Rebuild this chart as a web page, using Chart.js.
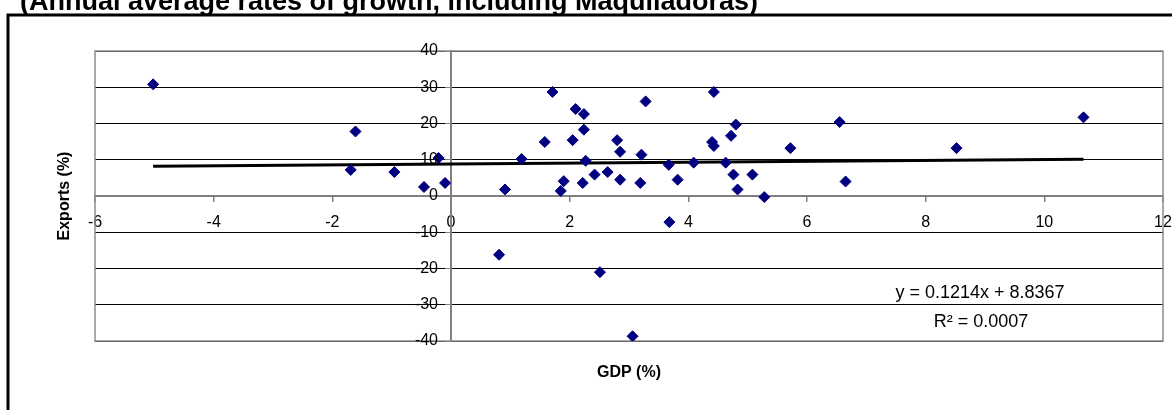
<!DOCTYPE html>
<html>
<head>
<meta charset="utf-8">
<script src="https://cdn.jsdelivr.net/npm/chart.js@4.4.1/dist/chart.umd.min.js"></script>
<style>
  html, body { margin: 0; padding: 0; background: #fff; }
  canvas { display: block; }
</style>
</head>
<body>
<canvas id="gdpChart" width="1172" height="410"></canvas>
<script>
/* ===== DATA ===== */
const chartTitle = "(Annual average rates of growth, including Maquiladoras)";

// GDP growth (%) and exports growth (%), one pair per point
const gdp = [
  -5.02, -1.69, -1.61, -0.955, -0.455, -0.21, -0.10, 0.81, 0.91, 1.19,
  1.58, 1.71, 1.85, 1.90, 2.05, 2.10, 2.22, 2.24, 2.24, 2.27,
  2.42, 2.51, 2.64, 2.80, 2.85, 2.85, 3.06, 3.19, 3.21, 3.28,
  3.67, 3.68, 3.82, 4.09, 4.40, 4.43, 4.43, 4.63, 4.72, 4.76,
  4.80, 4.83, 5.08, 5.28, 5.72, 6.55, 6.65, 8.52, 10.66
];
const exportsGrowth = [
  30.8, 7.2, 17.8, 6.6, 2.5, 10.5, 3.6, -16.2, 1.8, 10.2,
  14.9, 28.7, 1.4, 4.1, 15.4, 24.0, 3.6, 22.6, 18.3, 9.7,
  5.9, -21.0, 6.6, 15.4, 12.2, 4.5, -38.7, 3.6, 11.4, 26.1,
  8.6, -7.2, 4.5, 9.2, 14.9, 13.8, 28.7, 9.2, 16.6, 5.9,
  19.7, 1.8, 5.9, -0.3, 13.2, 20.4, 4.0, 13.2, 21.7
];

const xTickValues = [-6, -4, -2, 0, 2, 4, 6, 8, 10, 12];
const yTickValues = [-40, -30, -20, -10, 0, 10, 20, 30, 40];

// linear trend as printed on the chart
const trendSlope = 0.1214;
const trendIntercept = 8.8367;
const trendLabels = ["y = 0.1214x + 8.8367", "R\u00B2 = 0.0007"];

const xTitle = "GDP (%)";
const yTitle = "Exports (%)";

/* ===== BUILD ===== */
const FONT = "'Liberation Sans', Arial, Helvetica, sans-serif";
Chart.defaults.font.family = FONT;
Chart.defaults.color = "#000";

const points = gdp.map((x, i) => ({ x: x, y: exportsGrowth[i] }));
const xMin = Math.min(...gdp);
const xMax = Math.max(...gdp);
const trendPoints = [
  { x: xMin, y: trendSlope * xMin + trendIntercept },
  { x: xMax, y: trendSlope * xMax + trendIntercept }
];

// keep the edge tick labels from shrinking the plot area
function noScalePadding(s) {
  s.paddingLeft = 0;
  s.paddingRight = 0;
  s.paddingTop = 0;
  s.paddingBottom = 0;
}

const decorPlugin = {
  id: "decor",
  beforeDraw(chart) {
    const c = chart.ctx;
    c.save();
    c.fillStyle = "#fff";
    c.fillRect(0, 0, chart.width, chart.height);
    // outer frame of the pasted chart
    c.strokeStyle = "#000";
    c.lineWidth = 3;
    c.strokeRect(8, 15, chart.width + 20, chart.height + 20);
    // title, cut off at the top of the picture
    c.fillStyle = "#000";
    c.font = "bold 27px " + FONT;
    c.textBaseline = "alphabetic";
    c.fillText(chartTitle, 20, 10);
    c.restore();
  },
  beforeDatasetsDraw(chart) {
    const a = chart.chartArea;
    const c = chart.ctx;
    c.save();
    c.strokeStyle = "#8c8c8c";
    c.lineWidth = 1.5;
    c.strokeRect(a.left, a.top, a.right - a.left, a.bottom - a.top);
    c.restore();
  },
  afterDraw(chart) {
    const a = chart.chartArea;
    const c = chart.ctx;
    const xs = chart.scales.x;
    const ys = chart.scales.y;
    c.save();
    c.fillStyle = "#000";

    // y tick labels, left of the axis that crosses at x = 0
    c.font = "16px " + FONT;
    c.textAlign = "right";
    c.textBaseline = "middle";
    const yAxisX = xs.getPixelForValue(0);
    yTickValues.forEach(v => {
      c.fillText(String(v), yAxisX - 13, ys.getPixelForValue(v));
    });

    c.textAlign = "center";
    c.font = "bold 16px " + FONT;
    c.fillText(xTitle, (a.left + a.right) / 2, 373);
    c.save();
    c.translate(65, (a.top + a.bottom) / 2);
    c.rotate(-Math.PI / 2);
    c.fillText(yTitle, 0, 0);
    c.restore();

    c.font = "18px " + FONT;
    c.fillText(trendLabels[0], 980, 293);
    c.fillText(trendLabels[1], 981, 322);
    c.restore();
  }
};

new Chart(document.getElementById("gdpChart"), {
  type: "scatter",
  data: {
    datasets: [
      {
        label: "Exports",
        data: points,
        pointStyle: "rectRot",
        pointRadius: 5.5,
        backgroundColor: "#000080",
        borderColor: "#000080",
        borderWidth: 1
      },
      {
        type: "line",
        label: "Trend",
        data: trendPoints,
        borderColor: "#000",
        borderWidth: 3,
        pointRadius: 0,
        fill: false
      }
    ]
  },
  options: {
    responsive: false,
    animation: false,
    layout: { padding: { left: 95, top: 51, right: 9, bottom: 69 } },
    plugins: {
      legend: { display: false },
      tooltip: { enabled: false }
    },
    scales: {
      x: {
        type: "linear",
        min: -6,
        max: 12,
        position: { y: 0 },
        afterBuildTicks: s => { s.ticks = xTickValues.map(v => ({ value: v })); },
        afterFit: noScalePadding,
        grid: { drawOnChartArea: false, drawTicks: true, tickLength: 5, color: "#808080", lineWidth: 1.5 },
        border: { color: "#808080", width: 2 },
        ticks: { font: { size: 16 }, padding: 12, maxRotation: 0, autoSkip: false }
      },
      y: {
        type: "linear",
        min: -40,
        max: 40,
        position: { x: 0 },
        afterBuildTicks: s => { s.ticks = yTickValues.map(v => ({ value: v })); },
        afterFit: noScalePadding,
        grid: {
          color: ctx => (ctx.tick && ctx.tick.value === 0 ? "rgba(0,0,0,0)" : "#000"),
          lineWidth: 1,
          tickLength: 5,
          tickColor: "#808080"
        },
        border: { color: "#808080", width: 2 },
        ticks: { display: false }
      }
    }
  },
  plugins: [decorPlugin]
});
</script>
</body>
</html>
